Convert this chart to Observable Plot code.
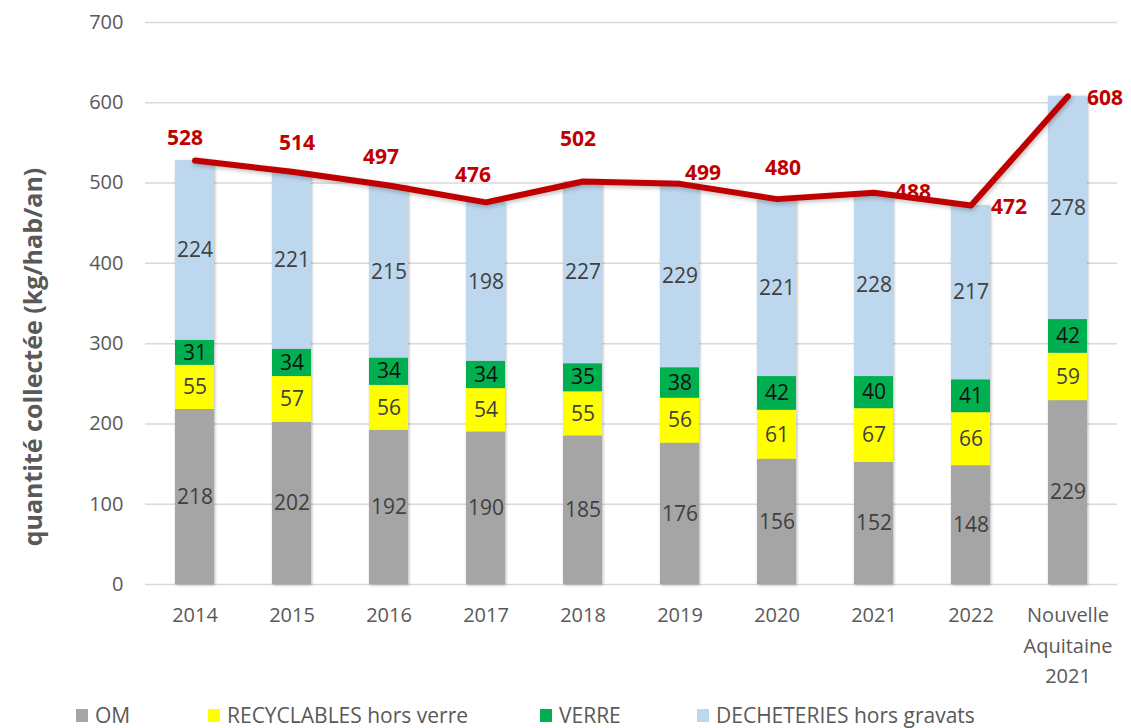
<!DOCTYPE html>
<html><head><meta charset="utf-8">
<script src="https://cdn.jsdelivr.net/npm/d3@7"></script>
<script src="https://cdn.jsdelivr.net/npm/@observablehq/plot@0.6"></script>
<style>
body{margin:0;background:#fff;font-family:"Open Sans",sans-serif;}
#wrap{position:relative;width:1131px;height:728px;overflow:hidden;}
#chart svg{display:block;}
#ytitle{position:absolute;left:32px;top:357px;transform:translate(-50%,-50%) rotate(-90deg);font-weight:bold;font-size:25px;color:#595959;white-space:nowrap;}
#legend{position:absolute;top:702px;left:0;width:1131px;height:26px;}
.li{position:absolute;top:0;display:flex;align-items:center;font-size:21px;line-height:26px;height:26px;color:#595959;white-space:nowrap;}
.sw{width:12px;height:13px;margin-right:7px;}
g[aria-label="bar"]{filter:drop-shadow(1.5px 1px 1.5px rgba(0,0,0,0.28));}
g[aria-label="line"]{filter:drop-shadow(1px 2px 2px rgba(0,0,0,0.25));}
</style>
</head><body>
<div id="wrap">
  <div id="chart"></div>
  <div id="ytitle">quantité collectée (kg/hab/an)</div>
  <div id="legend"></div>
</div>
<script>
// ---- data ----
const categories = ["2014","2015","2016","2017","2018","2019","2020","2021","2022","Nouvelle Aquitaine 2021"];
const xTickLabels = ["2014","2015","2016","2017","2018","2019","2020","2021","2022","Nouvelle\nAquitaine\n2021"];
const seriesNames = ["OM","RECYCLABLES hors verre","VERRE","DECHETERIES hors gravats"];
const om = [218,202,192,190,185,176,156,152,148,229];
const recyclables = [55,57,56,54,55,56,61,67,66,59];
const verre = [31,34,34,34,35,38,42,40,41,42];
const decheteries = [224,221,215,198,227,229,221,228,217,278];
const totals = [528,514,497,476,502,499,480,488,472,608];
const yTicks = [0,100,200,300,400,500,600,700];

// ---- styles / layout ----
const seriesColors = ["#A5A5A5","#FFFF00","#00B050","#BDD7EE"];
const labelColors = ["#404040","#404040","#111111","#404040"];
const totalLabelOffsets = [[-10,-22],[5,-29],[-8,-28],[-13,-27],[-5,-42],[23,-11],[6,-31],[39,0],[38,2],[37,2]];
const legendX = [76,208,540,697];

const seriesValues = [om, recyclables, verre, decheteries];
const rows = [];
seriesNames.forEach((s, si) => {
  categories.forEach((c, ci) => rows.push({cat: c, series: s, si, value: seriesValues[si][ci]}));
});
const totalRows = categories.map((c, i) => ({cat: c, total: totals[i], i}));
const tickLabel = new Map(categories.map((c, i) => [c, xTickLabels[i]]));

const plot = Plot.plot({
  width: 1131,
  height: 702,
  marginLeft: 145,
  marginRight: 14,
  marginTop: 22,
  marginBottom: 118,
  style: {fontFamily: "Open Sans", background: "#fff"},
  x: {domain: categories, paddingInner: 0.6, paddingOuter: 0.3, axis: null},
  y: {domain: [0, 700], axis: null},
  color: {domain: seriesNames, range: seriesColors},
  marks: [
    Plot.gridY(yTicks, {stroke: "#d9d9d9", strokeOpacity: 1, strokeWidth: 1.5}),
    Plot.axisY(yTicks, {tickSize: 0, tickPadding: 22, fontSize: 20, color: "#595959", label: null}),
    Plot.axisX({tickSize: 0, tickPadding: 16, fontSize: 20, color: "#595959", label: null, lineHeight: 1.53, tickFormat: d => tickLabel.get(d)}),
    Plot.barY(rows, {x: "cat", y: "value", fill: "series", order: seriesNames}),
    Plot.text(rows, Plot.stackY({x: "cat", y: "value", z: "series", order: seriesNames, text: d => String(d.value), fontSize: 21, fill: d => labelColors[d.si]})),
    Plot.lineY(totalRows, {x: "cat", y: "total", stroke: "#C00000", strokeWidth: 6, strokeLinecap: "round", strokeLinejoin: "round"}),
    ...totalRows.map((d, i) => Plot.text([d], {x: "cat", y: "total", text: d => String(d.total), fill: "#C00000", fontWeight: "bold", fontSize: 21, dx: totalLabelOffsets[i][0], dy: totalLabelOffsets[i][1]}))
  ]
});
document.getElementById("chart").appendChild(plot);

const legend = document.getElementById("legend");
seriesNames.forEach((s, i) => {
  const item = document.createElement("div");
  item.className = "li";
  item.style.left = legendX[i] + "px";
  const sw = document.createElement("span");
  sw.className = "sw";
  sw.style.background = seriesColors[i];
  const t = document.createElement("span");
  t.textContent = s;
  item.appendChild(sw); item.appendChild(t);
  legend.appendChild(item);
});
</script>
</body></html>
